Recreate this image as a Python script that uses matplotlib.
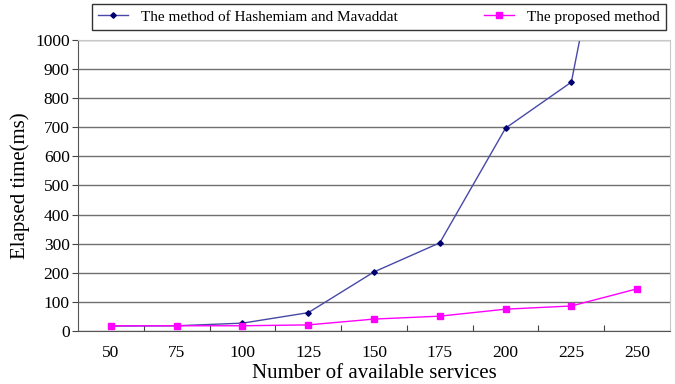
import matplotlib
matplotlib.use("Agg")
import matplotlib.pyplot as plt

plt.rcParams["font.family"] = ["Liberation Serif", "DejaVu Serif"]

services = [50, 75, 100, 125, 150, 175, 200, 225, 250]
hashemiam = [17, 18, 27, 63, 203, 303, 697, 855, 2000]
proposed = [18, 18, 18, 21, 41, 51, 75, 86, 145]

fig = plt.figure(figsize=(6.75, 3.84), dpi=100)
ax = fig.add_axes([0.1156, 0.138, 0.877, 0.758])

x = list(range(len(services)))
ax.plot(x, hashemiam, color="#4848a8", lw=1.0, marker="D", ms=2.8,
        mfc="#000070", mec="#000070", label="The method of Hashemiam and Mavaddat")
ax.plot(x, proposed, color="#ff00ff", lw=1.0, marker="s", ms=4.0,
        mfc="#ff00ff", mec="#ff00ff", label="The proposed method")

ax.set_xlim(-0.5, len(services) - 0.5)
ax.set_ylim(0, 1000)
ax.set_yticks(range(0, 1001, 100))
ax.yaxis.grid(True, color="#707070", lw=1.0)
ax.set_axisbelow(True)

# category boundaries as ticks, labels at the centres
ax.set_xticks([i + 0.5 for i in x[:-1]])
ax.set_xticklabels([])
ax.set_xticks(x, minor=True)
ax.set_xticklabels([str(s) for s in services], minor=True)
ax.tick_params(axis="x", which="major", direction="in", length=4, color="#444444")
ax.tick_params(axis="x", which="minor", length=0, pad=10, labelsize=12.5)
ax.tick_params(axis="y", direction="out", length=4, color="#444444", labelsize=12.5, pad=2)

for s in ["top", "right"]:
    ax.spines[s].set_color("#c8c8c8")
for s in ["left", "bottom"]:
    ax.spines[s].set_color("#555555")

ax.set_xlabel("Number of available services", fontsize=15, labelpad=2)
ax.set_ylabel("Elapsed time(ms)", fontsize=15, labelpad=4)

leg = fig.legend(loc="lower left", bbox_to_anchor=(0.136, 0.922, 0.85, 0.07),
                 mode="expand", ncol=2, fontsize=11, frameon=True,
                 fancybox=False, edgecolor="black", borderaxespad=0,
                 handlelength=2.0, columnspacing=4)
leg.get_frame().set_linewidth(1.0)

fig.savefig("out.png", dpi=100)
